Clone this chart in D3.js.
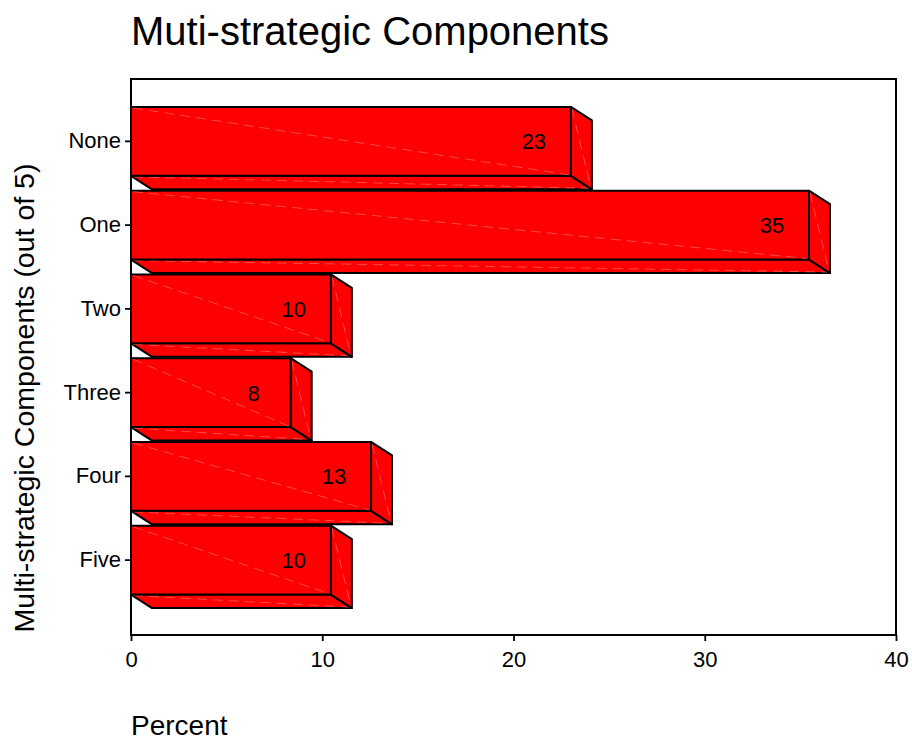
<!DOCTYPE html>
<html>
<head>
<meta charset="utf-8">
<script src="https://cdn.jsdelivr.net/npm/d3@7/dist/d3.min.js"></script>
<style>
  html, body { margin: 0; padding: 0; background: #fff; }
  svg { display: block; font-family: "Liberation Sans", Arial, Helvetica, sans-serif; }
</style>
</head>
<body>
<svg id="chart" width="912" height="740"></svg>
<script>
// Share of respondents by number of multi-strategic components
const categories = ["None", "One", "Two", "Three", "Four", "Five"];
const percents = [23.0, 35.45, 10.45, 8.35, 12.55, 10.45];
const xTickValues = [0, 10, 20, 30, 40];
const titleText = "Muti-strategic Components";
const xTitleText = "Percent";
const yTitleText = "Multi-strategic Components (out of 5)";

const svg = d3.select("#chart");
const plot = { left: 131, right: 896, top: 79, bottom: 635 };
const depth = { dx: 21, dy: 13.5 };   // extrusion of the 3D bars

const x = d3.scaleLinear().domain([0, 40]).range([plot.left, plot.right]);
const y = d3.scaleBand()
  .domain(categories)
  .range([plot.top + 20.5, plot.bottom - depth.dy - 19.5])
  .paddingInner(0.177)
  .paddingOuter(0.0885);

const fmt = d3.format(".0f");
const rows = categories.map((c, i) => ({ cat: c, value: percents[i] }));

// bars
const bars = svg.append("g").attr("class", "bars");
rows.forEach(d => {
  const x0 = x(0), x1 = x(d.value);
  const top = y(d.cat), bot = top + y.bandwidth();
  const { dx, dy } = depth;
  const g = bars.append("g");
  const face = (pts) => g.append("path")
    .attr("d", "M" + pts.map(p => p.join(",")).join("L") + "Z")
    .attr("fill", "#ff0000")
    .attr("stroke", "#000")
    .attr("stroke-width", 2)
    .attr("stroke-linejoin", "round");
  const seam = (a, b) => g.append("line")
    .attr("x1", a[0]).attr("y1", a[1]).attr("x2", b[0]).attr("y2", b[1])
    .attr("stroke", "#ff7a7a")
    .attr("stroke-width", 0.6)
    .attr("stroke-dasharray", "10 6");

  // bottom face
  face([[x0, bot], [x1, bot], [x1 + dx, bot + dy], [x0 + dx, bot + dy]]);
  seam([x0 + 2, bot + 1], [x1 + dx - 2, bot + dy - 1]);
  // side face
  face([[x1, top], [x1 + dx, top + dy], [x1 + dx, bot + dy], [x1, bot]]);
  seam([x1 + 1, top + 2], [x1 + dx - 1, bot + dy - 2]);
  // front face
  face([[x0, top], [x1, top], [x1, bot], [x0, bot]]);
  seam([x0 + 2, top + 1], [x1 - 2, bot - 1]);

  g.append("text")
    .attr("x", x1 - 37)
    .attr("y", top + y.bandwidth() / 2)
    .attr("dy", "0.36em")
    .attr("text-anchor", "middle")
    .attr("font-size", 22)
    .attr("fill", "#000")
    .text(fmt(d.value));
});

// frame
svg.append("rect")
  .attr("x", plot.left).attr("y", plot.top)
  .attr("width", plot.right - plot.left).attr("height", plot.bottom - plot.top)
  .attr("fill", "none").attr("stroke", "#000").attr("stroke-width", 2);

// axes
const xAxis = svg.append("g")
  .attr("transform", `translate(0,${plot.bottom})`)
  .call(d3.axisBottom(x).tickValues(xTickValues).tickSize(6).tickPadding(6).tickFormat(d3.format("d")));
const yAxis = svg.append("g")
  .attr("transform", `translate(${plot.left},0)`)
  .call(d3.axisLeft(y).tickSize(6).tickPadding(4));
[xAxis, yAxis].forEach(a => {
  a.select(".domain").remove();
  a.selectAll(".tick line").attr("stroke", "#000").attr("stroke-width", 1.8);
  a.selectAll(".tick text")
    .attr("fill", "#000")
    .attr("font-size", 22)
    .attr("font-family", "\"Liberation Sans\", Arial, Helvetica, sans-serif");
});
xAxis.selectAll(".tick text").attr("dy", "0.92em");

// titles
svg.append("text")
  .attr("x", 131).attr("y", 45)
  .attr("font-size", 40)
  .attr("fill", "#000")
  .text(titleText);

svg.append("text")
  .attr("x", 131).attr("y", 735)
  .attr("font-size", 28)
  .attr("fill", "#000")
  .text(xTitleText);

svg.append("text")
  .attr("transform", `translate(34,398) rotate(-90)`)
  .attr("text-anchor", "middle")
  .attr("font-size", 28.5)
  .attr("fill", "#000")
  .text(yTitleText);
</script>
</body>
</html>
